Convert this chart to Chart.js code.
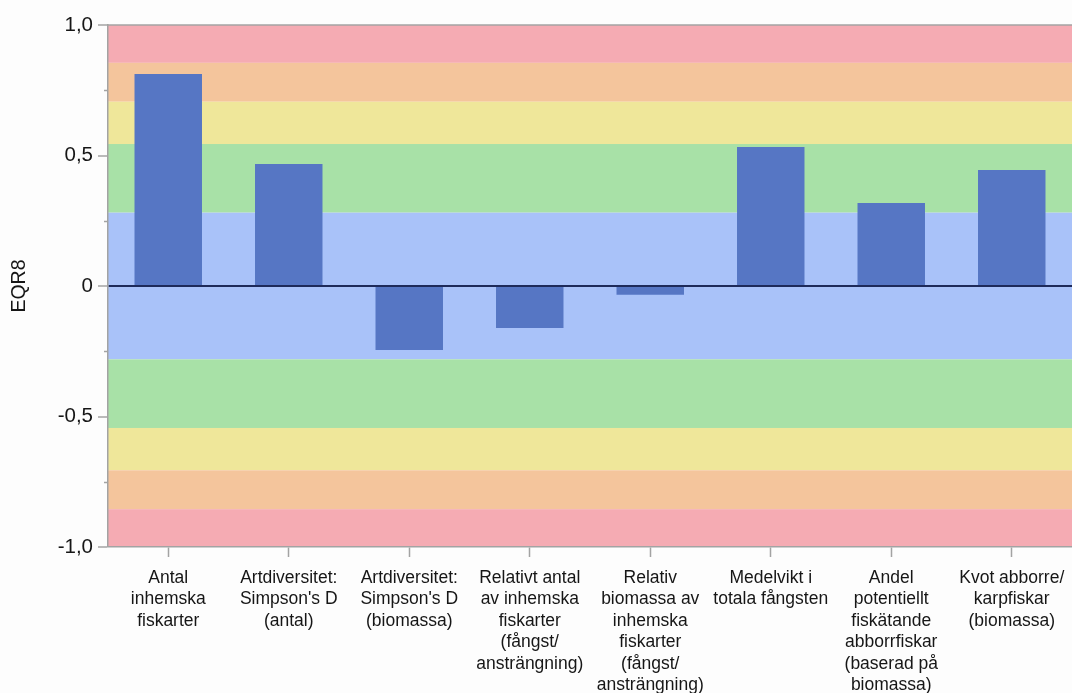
<!DOCTYPE html>
<html>
<head>
<meta charset="utf-8">
<script src="https://cdn.jsdelivr.net/npm/chart.js@4"></script>
<style>
  html, body { margin: 0; padding: 0; background: #fdfdfd; }
  #wrap { width: 1072px; height: 693px; }
</style>
</head>
<body>
<div id="wrap"><canvas id="chart"></canvas></div>
<script>
// categories (one entry per bar, split into label lines)
const categories = [
    ['Antal', 'inhemska', 'fiskarter'],
    ['Artdiversitet:', "Simpson's D", '(antal)'],
    ['Artdiversitet:', "Simpson's D", '(biomassa)'],
    ['Relativt antal', 'av inhemska', 'fiskarter', '(fångst/', 'ansträngning)'],
    ['Relativ', 'biomassa av', 'inhemska', 'fiskarter', '(fångst/', 'ansträngning)'],
    ['Medelvikt i', 'totala fångsten'],
    ['Andel', 'potentiellt', 'fiskätande', 'abborrfiskar', '(baserad på', 'biomassa)'],
    ['Kvot abborre/', 'karpfiskar', '(biomassa)']
];

// EQR8 values
const eqr8 = [0.812, 0.467, -0.245, -0.161, -0.034, 0.533, 0.318, 0.444];

// class bands: lower bound, upper bound, colour
const bandLows  = [0.855, 0.706, 0.544, 0.281, -0.281, -0.544, -0.706, -0.855, -1.0];
const bandHighs = [1.0, 0.855, 0.706, 0.544, 0.281, -0.281, -0.544, -0.706, -0.855];
const bandColors = ['#f5abb3', '#f4c59c', '#efe79a', '#a8e1a7', '#a9c2f9',
                    '#a8e1a7', '#efe79a', '#f4c59c', '#f5abb3'];

const yMin = -1, yMax = 1, yStep = 0.25;

const axisGray = '#a3a3a3';
const textColor = '#161616';

// ---------------------------------------
// background bands + minor ticks + frame
// ---------------------------------------
const bandsPlugin = {
    id: 'bands',
    beforeDraw(chart) {
        const { ctx, chartArea } = chart;
        const y = chart.scales.y;
        ctx.save();
        ctx.fillStyle = '#fdfdfd';
        ctx.fillRect(0, 0, chart.width, chart.height);
        for (let i = 0; i < bandLows.length; i++) {
            const top = y.getPixelForValue(bandHighs[i]);
            const bottom = y.getPixelForValue(bandLows[i]);
            ctx.fillStyle = bandColors[i];
            ctx.fillRect(chartArea.left, top, chartArea.right - chartArea.left, bottom - top);
        }
        ctx.restore();
    },
    afterDraw(chart) {
        const { ctx, chartArea } = chart;
        const y = chart.scales.y;
        ctx.save();
        ctx.strokeStyle = axisGray;
        ctx.lineWidth = 1.5;
        // minor ticks (short)
        for (let v = yMin; v <= yMax + 1e-9; v += yStep) {
            if (Math.abs(v * 2 - Math.round(v * 2)) < 1e-6) continue;
            const py = Math.round(y.getPixelForValue(v)) + 0.5;
            ctx.beginPath();
            ctx.moveTo(chartArea.left - 4, py);
            ctx.lineTo(chartArea.left, py);
            ctx.stroke();
        }
        // top frame line
        ctx.beginPath();
        ctx.moveTo(chartArea.left, chartArea.top);
        ctx.lineTo(chartArea.right, chartArea.top);
        ctx.stroke();
        ctx.restore();
    }
};

new Chart(document.getElementById('chart'), {
    type: 'bar',
    data: {
        labels: categories,
        datasets: [{
            label: 'EQR8',
            data: eqr8,
            backgroundColor: '#5676c4',
            borderWidth: 0,
            barPercentage: 0.56,
            categoryPercentage: 1
        }]
    },
    options: {
        responsive: true,
        maintainAspectRatio: false,
        animation: false,
        devicePixelRatio: 1,
        layout: { padding: { top: 25, right: -5, left: 0, bottom: 0 } },
        plugins: {
            legend: { display: false },
            tooltip: { enabled: false }
        },
        scales: {
            x: {
                afterFit(scale) {
                    scale.height = 146;
                    scale.paddingLeft = 0;
                    scale.paddingRight = 0;
                },
                grid: {
                    offset: false,
                    drawOnChartArea: false,
                    tickLength: 10,
                    tickColor: axisGray,
                    tickWidth: 1.5
                },
                border: { color: axisGray, width: 1.5 },
                ticks: {
                    color: textColor,
                    maxRotation: 0,
                    autoSkip: false,
                    padding: 10,
                    font: { family: 'Liberation Sans, Arial, sans-serif', size: 17.5, lineHeight: 1.23 }
                }
            },
            y: {
                min: yMin,
                max: yMax,
                afterFit(scale) { scale.width = 108; },
                grid: {
                    drawOnChartArea: true,
                    color: (c) => (c.tick && c.tick.value === 0) ? '#1e2a5a' : 'rgba(0,0,0,0)',
                    lineWidth: (c) => (c.tick && c.tick.value === 0) ? 2 : 0,
                    tickLength: 10,
                    tickColor: (c) => (c.tick && Math.abs(c.tick.value * 2 - Math.round(c.tick.value * 2)) < 1e-6) ? axisGray : 'rgba(0,0,0,0)',
                    tickWidth: 1.5
                },
                border: { color: axisGray, width: 1.5 },
                ticks: {
                    stepSize: yStep,
                    color: textColor,
                    padding: 5,
                    font: { family: 'Liberation Sans, Arial, sans-serif', size: 20.5 },
                    callback(v) {
                        if (Math.abs(v * 2 - Math.round(v * 2)) > 1e-6) return '';
                        if (Math.abs(v) < 1e-9) return '0';
                        return v.toFixed(1).replace('.', ',');
                    }
                },
                title: {
                    display: true,
                    text: 'EQR8',
                    color: textColor,
                    padding: { top: 8, bottom: 0 },
                    font: { family: 'Liberation Sans, Arial, sans-serif', size: 19.5 }
                }
            }
        }
    },
    plugins: [bandsPlugin]
});
</script>
</body>
</html>
